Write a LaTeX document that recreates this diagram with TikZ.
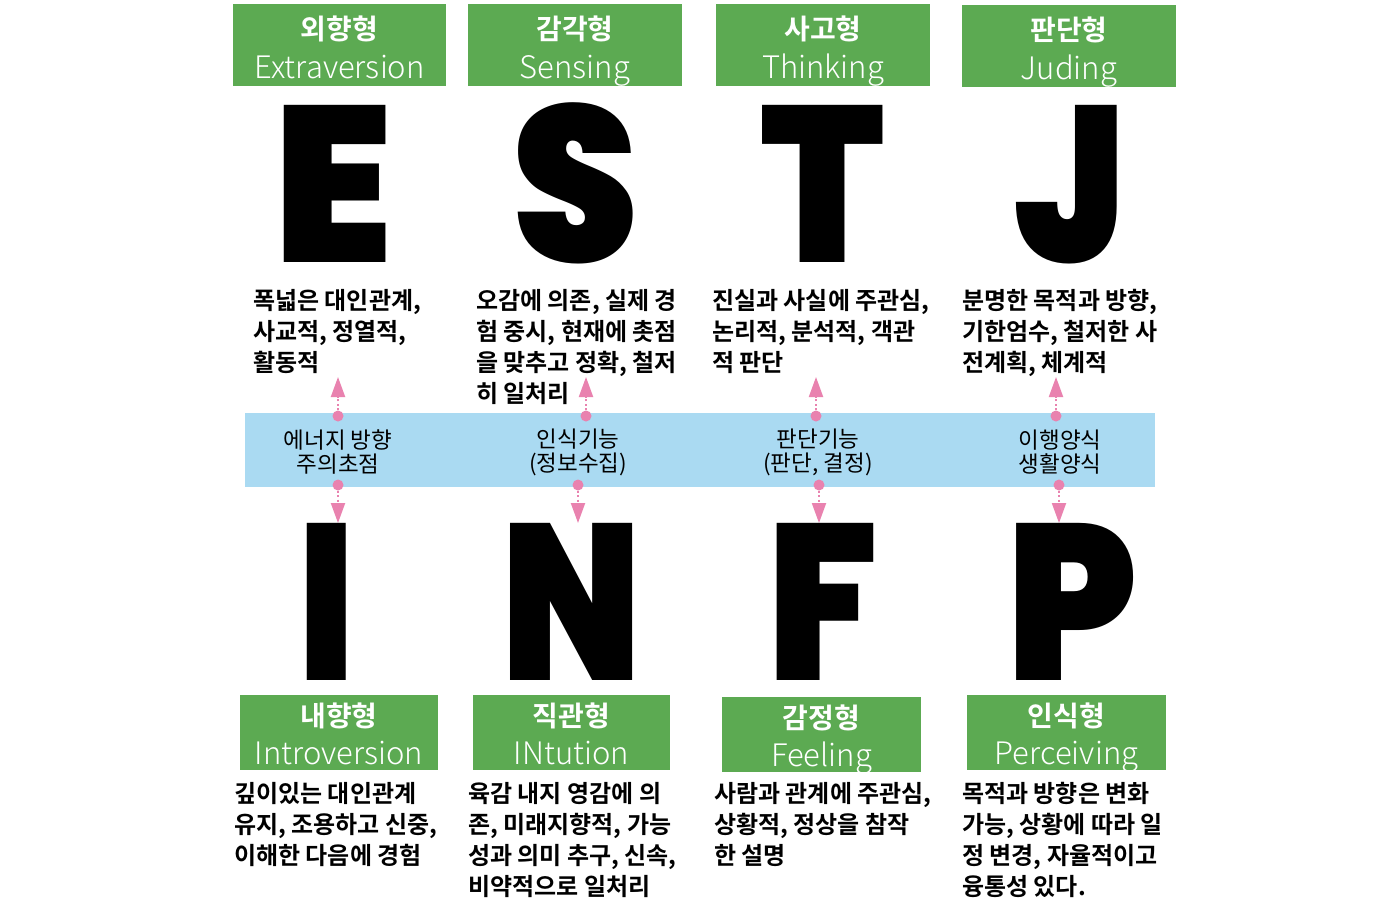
\documentclass[tikz,border=0pt]{standalone}
\usepackage{fontspec}
\usetikzlibrary{arrows.meta}
\newfontfamily\kr{Noto Sans CJK KR}
\newfontfamily\krb{Noto Sans CJK KR Bold}
\newfontfamily\krl{Noto Sans CJK KR Light}
\newfontfamily\heavy{Poppins Black}
\definecolor{gboxc}{RGB}{92,170,82}
\definecolor{bandc}{RGB}{170,218,242}
\definecolor{pk}{RGB}{233,130,175}
\tikzset{
  greenbox/.style={fill=gboxc, draw=none, inner sep=0},
  krtitle/.style={text=white, font=\krb\fontsize{28}{28}\selectfont, anchor=base, inner sep=0, text height=20, text depth=0},
  entitle/.style={text=white, font=\krl\fontsize{31}{31}\selectfont, anchor=base, inner sep=0, text height=22, text depth=6},
  bigletter/.style={font=\heavy\fontsize{222}{222}\selectfont, anchor=base, inner sep=0, text height=157, text depth=0},
  desc/.style={font=\krb\fontsize{24}{31}\selectfont, align=left, anchor=north west, inner sep=0},
  bandtext/.style={font=\kr\fontsize{22.5}{24}\selectfont, align=center, inner sep=0},
  pdot/.style={circle, fill=pk, minimum size=11, inner sep=0},
  parrow/.style={draw=pk, line width=2, dash pattern=on 2 off 2.5, -{Triangle[width=14,length=20]}}
}
\begin{document}
\begin{tikzpicture}[x=1pt,y=-1pt]
\fill[white] (0,0) rectangle (1400,900);
\useasboundingbox (0,0) rectangle (1400,900);
% top boxes
\node[greenbox, minimum width=213, minimum height=82] (be) at (339.5,45) {};
\node[greenbox, minimum width=214, minimum height=82] (bs) at (575,45) {};
\node[greenbox, minimum width=214, minimum height=82] (bt) at (823,45) {};
\node[greenbox, minimum width=214, minimum height=82] (bj) at (1069,46) {};
\node[krtitle] (kte) at (339.5,39) {외향형};
\node[entitle] (ete) at (339.5,78) {Extraversion};
\node[krtitle] (kts) at (575,39) {감각형};
\node[entitle] (ets) at (575,78) {Sensing};
\node[krtitle] (ktt) at (823,39) {사고형};
\node[entitle] (ett) at (823,78) {Thinking};
\node[krtitle] (ktj) at (1069,40) {판단형};
\node[entitle] (etj) at (1069,79) {Juding};
% big letters top
\node[bigletter, xscale=0.97] (le) at (333,262) {E};
\node[bigletter, xscale=0.91] (ls) at (576,262) {S};
\node[bigletter, xscale=0.91] (lt) at (823,262) {T};
\node[bigletter, xscale=0.85] (lj) at (1070,262) {J};
% descriptions top
\node[desc] (de) at (253,289) {폭넓은 대인관계,\\사교적, 정열적,\\활동적};
\node[desc] (ds) at (476,289) {오감에 의존, 실제 경\\험 중시, 현재에 촛점\\을 맞추고 정확, 철저\\히 일처리};
\node[desc] (dt) at (712,289) {진실과 사실에 주관심,\\논리적, 분석적, 객관\\적 판단};
\node[desc] (dj) at (962,289) {분명한 목적과 방향,\\기한엄수, 철저한 사\\전계획, 체계적};
% band
\node[fill=bandc, minimum width=910, minimum height=74, inner sep=0] (band) at (700,450) {};
\node[bandtext] (t1) at (338,452) {에너지 방향\\주의초점};
\node[bandtext] (t2) at (578,452) {인식기능\\(정보수집)};
\node[bandtext] (t3) at (818,452) {판단기능\\(판단, 결정)};
\node[bandtext] (t4) at (1060,452) {이행양식\\생활양식};
% arrows up
\node[pdot] (ud1) at (338,416) {};
\node[pdot] (ud2) at (586,416) {};
\node[pdot] (ud3) at (816,416) {};
\node[pdot] (ud4) at (1056,416) {};
\coordinate (ut1) at (338,377);
\coordinate (ut2) at (586,377);
\coordinate (ut3) at (816,377);
\coordinate (ut4) at (1056,377);
\draw[parrow] (ud1) -- (ut1);
\draw[parrow] (ud2) -- (ut2);
\draw[parrow] (ud3) -- (ut3);
\draw[parrow] (ud4) -- (ut4);
% arrows down
\node[pdot] (dd1) at (338,485) {};
\node[pdot] (dd2) at (578,485) {};
\node[pdot] (dd3) at (819,485) {};
\node[pdot] (dd4) at (1059,485) {};
\coordinate (dt1) at (338,523);
\coordinate (dt2) at (578,523);
\coordinate (dt3) at (819,523);
\coordinate (dt4) at (1059,523);
\draw[parrow] (dd1) -- (dt1);
\draw[parrow] (dd2) -- (dt2);
\draw[parrow] (dd3) -- (dt3);
\draw[parrow] (dd4) -- (dt4);
% big letters bottom
\node[bigletter, xscale=0.79] (li) at (327,680) {I};
\node[bigletter, xscale=0.81] (ln) at (572,680) {N};
\node[bigletter, xscale=0.87] (lf) at (823,680) {F};
\node[bigletter, xscale=0.91] (lp) at (1072,680) {P};
% bottom boxes
\node[greenbox, minimum width=198, minimum height=75] (bi) at (339,732.5) {};
\node[greenbox, minimum width=197, minimum height=75] (bn) at (571.5,732.5) {};
\node[greenbox, minimum width=199, minimum height=75] (bf) at (821.5,734.5) {};
\node[greenbox, minimum width=199, minimum height=75] (bp) at (1066.5,732.5) {};
\node[krtitle] (kti) at (339,726) {내향형};
\node[entitle] (eti) at (339,764) {Introversion};
\node[krtitle] (ktn) at (571.5,726) {직관형};
\node[entitle] (etn) at (571.5,764) {INtution};
\node[krtitle] (ktf) at (821.5,728) {감정형};
\node[entitle] (etf) at (821.5,766) {Feeling};
\node[krtitle] (ktp) at (1066.5,726) {인식형};
\node[entitle] (etp) at (1066.5,764) {Perceiving};
% descriptions bottom
\node[desc] (di) at (234,782) {깊이있는 대인관계\\유지, 조용하고 신중,\\이해한 다음에 경험};
\node[desc] (dn) at (468,782) {육감 내지 영감에 의\\존, 미래지향적, 가능\\성과 의미 추구, 신속,\\비약적으로 일처리};
\node[desc] (df) at (714,782) {사람과 관계에 주관심,\\상황적, 정상을 참작\\한 설명};
\node[desc] (dp) at (962,782) {목적과 방향은 변화\\가능, 상황에 따라 일\\정 변경, 자율적이고\\융통성 있다.};
\end{tikzpicture}
\end{document}
